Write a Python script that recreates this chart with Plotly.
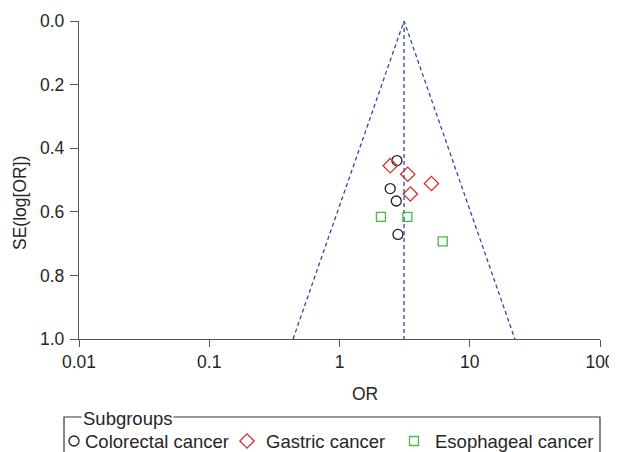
import plotly.graph_objects as go

# ---- data ----
colorectal_or = [2.76, 2.45, 2.73, 2.81]
colorectal_se = [0.439, 0.527, 0.566, 0.671]
gastric_or = [2.45, 3.34, 5.08, 3.50]
gastric_se = [0.455, 0.482, 0.511, 0.544]
esophageal_or = [2.08, 3.32, 6.20]
esophageal_se = [0.616, 0.616, 0.693]

pooled_or = 3.13
funnel_se = [1.0, 0.0, 1.0]
funnel_or = [0.44, 3.13, 22.2]

x_tickvals = [0.01, 0.1, 1, 10, 100]
x_ticktext = ["0.01", "0.1", "1", "10", "100"]
y_tickvals = [0.0, 0.2, 0.4, 0.6, 0.8, 1.0]
y_ticktext = ["0.0", "0.2", "0.4", "0.6", "0.8", "1.0"]

legend_names = ["Colorectal cancer", "Gastric cancer", "Esophageal cancer"]

FONT = "Liberation Sans, Arial, Helvetica, sans-serif"
TXT = "#262626"
AX = "#555555"
BLUE = "#3447a8"
COLORS = ["#222222", "#cc3333", "#44bb44"]
SYMBOLS = ["circle-open", "diamond-open", "square-open"]
SIZES = [10, 11, 9]

# page offset (default body margin) -> figure is drawn at (8, 8)
OFF = 8
W, H = 640, 452 - OFF
PL, PR, PT, PB = 79, 600, 21, 339  # plot area in screen pixels

xdom = [(PL - OFF) / W, (PR - OFF) / W]
ydom = [(H - (PB - OFF)) / H, (H - (PT - OFF)) / H]

fig = go.Figure()

line_style = dict(color=BLUE, width=1.3, dash="4px,3px")
fig.add_trace(go.Scatter(x=funnel_or, y=funnel_se, mode="lines", line=line_style,
                         showlegend=False, hoverinfo="skip"))
fig.add_trace(go.Scatter(x=[pooled_or, pooled_or], y=[0.0, 1.0], mode="lines",
                         line=line_style, showlegend=False, hoverinfo="skip"))

series = [(colorectal_or, colorectal_se), (gastric_or, gastric_se),
          (esophageal_or, esophageal_se)]
for (xs, ys), name, col, sym, sz in zip(series, legend_names, COLORS, SYMBOLS, SIZES):
    fig.add_trace(go.Scatter(x=xs, y=ys, mode="markers", name=name, showlegend=False,
                             marker=dict(symbol=sym, size=sz, color=col,
                                         line=dict(width=1.3))))

# legend drawn in screen-pixel overlay axes (x2/y2)
leg_sym_x = [74, 247, 414]
leg_txt_x = [83, 264, 433]
leg_y = 441
for i in range(3):
    fig.add_trace(go.Scatter(x=[leg_sym_x[i]], y=[leg_y], xaxis="x2", yaxis="y2",
                             mode="markers", showlegend=False, hoverinfo="skip",
                             marker=dict(symbol=SYMBOLS[i], size=SIZES[i], color=COLORS[i],
                                         line=dict(width=1.3))))

annotations = [
    dict(text="OR", xref="x2", yref="y2", x=365, y=394,
         xanchor="center", yanchor="middle", showarrow=False,
         font=dict(size=17.5, color=TXT)),
    dict(text="SE(log[OR])", xref="x2", yref="y2", x=20, y=203,
         xanchor="center", yanchor="middle", showarrow=False, textangle=-90,
         font=dict(size=17.5, color=TXT)),
    dict(text="Subgroups", xref="x2", yref="y2", x=81, y=418,
         xanchor="left", yanchor="middle", showarrow=False, bgcolor="white",
         borderpad=1, font=dict(size=18.5, color=TXT)),
]
for i in range(3):
    annotations.append(dict(text=legend_names[i], xref="x2", yref="y2",
                            x=leg_txt_x[i], y=leg_y, xanchor="left", yanchor="middle",
                            showarrow=False, font=dict(size=18.5, color=TXT)))

fig.update_layout(
    width=W, height=H,
    margin=dict(l=0, r=0, t=0, b=0, pad=0, autoexpand=False),
    paper_bgcolor="white", plot_bgcolor="rgba(0,0,0,0)",
    font=dict(family=FONT, size=17.5, color=TXT),
    showlegend=False,
    xaxis=dict(type="log", range=[-2, 2], domain=xdom, tickvals=x_tickvals,
               ticktext=x_ticktext, automargin=False, anchor="y",
               ticklabeloverflow="allow",
               showgrid=False, zeroline=False, showline=True, linecolor=AX, linewidth=1.3,
               ticks="outside", ticklen=7, tickwidth=1.3, tickcolor=AX,
               tickfont=dict(size=17.5, color=TXT)),
    yaxis=dict(range=[1.0, 0.0], domain=ydom, tickvals=y_tickvals, ticktext=y_ticktext,
               automargin=False, anchor="x", ticklabelstandoff=2,
               showgrid=False, zeroline=False, showline=True, linecolor=AX, linewidth=1.3,
               ticks="outside", ticklen=8, tickwidth=1.3, tickcolor=AX,
               tickfont=dict(size=17.5, color=TXT)),
    xaxis2=dict(range=[OFF, OFF + W], domain=[0, 1], anchor="y2",
                visible=False, fixedrange=True),
    yaxis2=dict(range=[OFF + H, OFF], domain=[0, 1], anchor="x2",
                visible=False, fixedrange=True),
    shapes=[dict(type="rect", xref="x2", yref="y2", x0=64, x1=600, y0=417, y1=470,
                 line=dict(color="#333333", width=1.2), fillcolor="rgba(0,0,0,0)",
                 layer="below")],
    annotations=annotations,
)

fig.write_html(
    "out.html",
    config={"displayModeBar": False},
    post_script="document.documentElement.style.overflow='hidden';"
                "document.body.style.overflow='hidden';",
)
